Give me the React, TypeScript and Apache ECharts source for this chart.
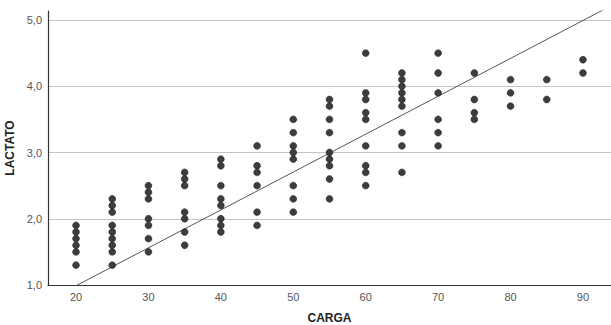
import React, { useEffect, useRef } from "react";
import * as echarts from "echarts";

// Carga (x) levels and the lactato values observed at each
const cargas = [20, 25, 30, 35, 40, 45, 50, 55, 60, 65, 70, 75, 80, 85, 90];
const lactatoPorCarga = [
  [1.9, 1.8, 1.7, 1.6, 1.5, 1.3],
  [2.3, 2.2, 2.1, 1.9, 1.8, 1.7, 1.6, 1.5, 1.3],
  [2.5, 2.4, 2.3, 2.0, 1.9, 1.7, 1.5],
  [2.7, 2.6, 2.5, 2.1, 2.0, 1.8, 1.6],
  [2.9, 2.8, 2.5, 2.3, 2.2, 2.0, 1.9, 1.8],
  [3.1, 2.8, 2.7, 2.5, 2.1, 1.9],
  [3.5, 3.3, 3.1, 3.0, 2.9, 2.5, 2.3, 2.1],
  [3.8, 3.7, 3.5, 3.3, 3.0, 2.9, 2.8, 2.6, 2.3],
  [4.5, 3.9, 3.8, 3.6, 3.5, 3.1, 2.8, 2.7, 2.5],
  [4.2, 4.1, 4.0, 3.9, 3.8, 3.7, 3.3, 3.1, 2.7],
  [4.5, 4.2, 3.9, 3.5, 3.3, 3.1],
  [4.2, 3.8, 3.6, 3.5],
  [4.1, 3.9, 3.7],
  [4.1, 3.8],
  [4.4, 4.2],
];

// Linear fit line: LACTATO = intercept + slope * CARGA
const intercepto = -0.155;
const pendiente = 0.0572;

const xTickLabels = ["20", "30", "40", "50", "60", "70", "80", "90"];
const yTickLabels = ["1,0", "2,0", "3,0", "4,0", "5,0"];

const X_MIN = 16.13;
const X_MAX = 93.87;
const Y_MIN = 1;
const Y_MAX = 5.136;

export default function App() {
  const ref = useRef<HTMLDivElement>(null);

  useEffect(() => {
    if (!ref.current) return;
    const chart = echarts.init(ref.current, undefined, { renderer: "svg" });

    const puntos: number[][] = [];
    cargas.forEach((c, i) => {
      lactatoPorCarga[i].forEach((v) => puntos.push([c, v]));
    });

    const linea = [
      [X_MIN, intercepto + pendiente * X_MIN],
      [X_MAX, intercepto + pendiente * X_MAX],
    ];

    const font = "'Liberation Sans', Arial, sans-serif";

    chart.setOption({
      animation: false,
      backgroundColor: "#ffffff",
      grid: { left: 48, right: 0, top: 11, bottom: 40, containLabel: false, outerBoundsMode: "none" },
      xAxis: {
        type: "value",
        min: X_MIN,
        max: X_MAX,
        splitNumber: 8,
        minInterval: 10,
        maxInterval: 10,
        name: "CARGA",
        nameLocation: "middle",
        nameGap: 27,
        nameTextStyle: { fontFamily: font, fontSize: 12, fontWeight: "bold", color: "#222" },
        axisLine: { show: true, onZero: false, lineStyle: { color: "#333", width: 1.2 } },
        axisTick: { show: false },
        splitLine: { show: false },
        axisLabel: {
          margin: 6,
          fontFamily: font,
          fontSize: 11,
          color: "#555",
          showMinLabel: false,
          showMaxLabel: false,
          formatter: (v: number) => {
            const s = String(Math.round(v));
            return Math.abs(v - Math.round(v)) < 1e-6 && xTickLabels.includes(s) ? s : "";
          },
        },
      },
      yAxis: {
        type: "value",
        min: Y_MIN,
        max: Y_MAX,
        interval: 1,
        name: "LACTATO",
        nameLocation: "middle",
        nameGap: 11,
        nameTextStyle: { fontFamily: font, fontSize: 12, fontWeight: "bold", color: "#222" },
        axisLine: { show: true, onZero: false, lineStyle: { color: "#333", width: 1.2 } },
        axisTick: { show: false },
        splitLine: {
          show: true,
          showMinLine: false,
          showMaxLine: false,
          lineStyle: { color: "#c4c4c4", width: 1 },
        },
        axisLabel: {
          margin: 6,
          fontFamily: font,
          fontSize: 11,
          color: "#555",
          formatter: (v: number) => {
            const r = Math.round(v);
            if (Math.abs(v - r) > 1e-6) return "";
            return yTickLabels[r - 1] ?? "";
          },
        },
      },
      series: [
        {
          type: "line",
          data: linea,
          clip: true,
          showSymbol: false,
          symbol: "none",
          silent: true,
          lineStyle: { color: "#555", width: 1 },
          z: 1,
        },
        {
          type: "scatter",
          data: puntos,
          symbol: "circle",
          symbolSize: 6.8,
          itemStyle: { color: "#3d3d3d", borderColor: "#222", borderWidth: 0.6, opacity: 1 },
          z: 2,
        },
      ],
    });

    return () => chart.dispose();
  }, []);

  return (
    <div
      ref={ref}
      style={{ position: "fixed", left: 0, top: 0, width: 611, height: 325 }}
    />
  );
}
